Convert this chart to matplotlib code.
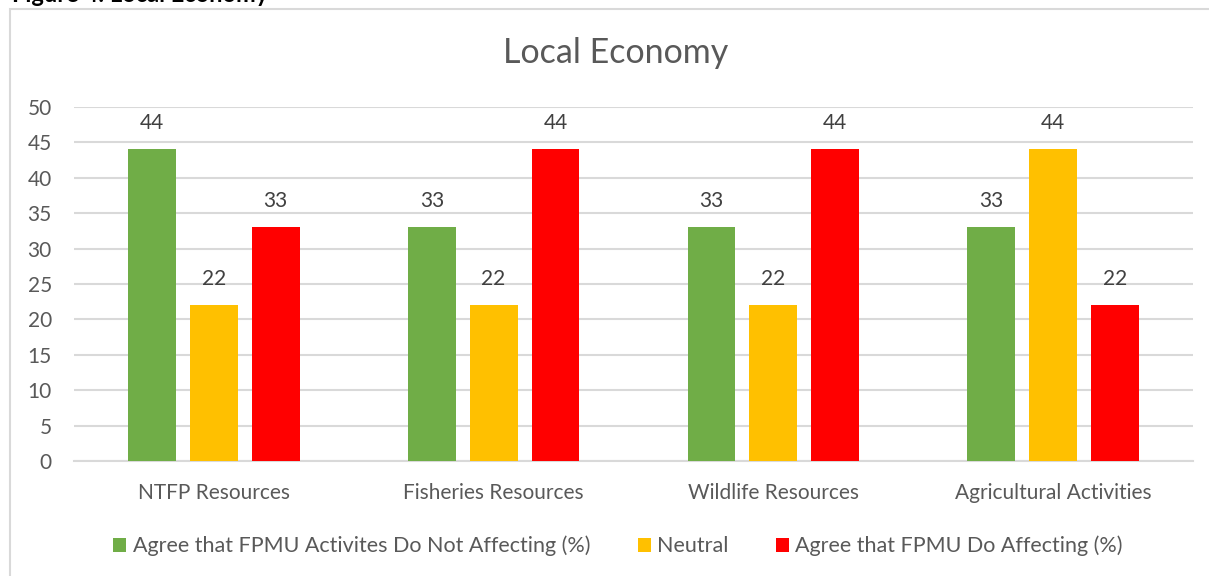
import matplotlib.pyplot as plt
import numpy as np
from matplotlib.patches import Rectangle

plt.rcParams['font.family'] = ['Lato', 'DejaVu Sans']

categories = ["NTFP Resources", "Fisheries Resources", "Wildlife Resources", "Agricultural Activities"]
series_names = ["Agree that FPMU Activites Do Not Affecting (%)", "Neutral",
                "Agree that FPMU Do Affecting (%)"]
agree_not = [44, 33, 33, 33]
neutral = [22, 22, 22, 44]
agree_do = [33, 44, 44, 22]
colors = ["#70ad47", "#ffc000", "#ff0000"]

text_color = "#595959"
grid_color = "#d9d9d9"

fig = plt.figure(figsize=(12.09, 5.76), dpi=100)
W, H = 1209, 576

# chart frame
fig.patches.append(Rectangle((10 / W, -0.1), 1.2, 1.1 - 9 / H, transform=fig.transFigure,
                             fill=False, edgecolor=grid_color, linewidth=1.5))
# caption above the chart, cut off by the page edge as in the source
fig.text(12 / W, 1 - 2 / H, "Figure 4: Local Economy", fontsize=17, fontweight="bold",
         ha="left", va="baseline", color="black")

ax = fig.add_axes([74 / W, 1 - 461 / H, (1193 - 74) / W, (461 - 107) / H])

x = np.arange(len(categories))
pitch = 0.221
width = 0.171
for i, (vals, name) in enumerate(zip([agree_not, neutral, agree_do], series_names)):
    bars = ax.bar(x + (i - 1) * pitch, vals, width, color=colors[i], label=name, zorder=3)
    for b, v in zip(bars, vals):
        ax.annotate(str(v), (b.get_x() + b.get_width() / 2, v), xytext=(0, 12),
                    textcoords="offset points", ha="center", va="bottom",
                    fontsize=15, color="#404040")

ax.set_xlim(-0.5, len(categories) - 0.5)
ax.set_ylim(0, 50)
ax.set_yticks(range(0, 51, 5))
ax.set_xticks(x)
ax.set_xticklabels(categories)
ax.tick_params(axis="both", length=0, labelsize=15, colors=text_color)
ax.tick_params(axis="y", pad=16)
ax.tick_params(axis="x", pad=16)
ax.grid(axis="y", color=grid_color, linewidth=1.5, zorder=0)
for s in ["top", "right", "left"]:
    ax.spines[s].set_visible(False)
ax.spines["bottom"].set_color(grid_color)
ax.spines["bottom"].set_linewidth(1.5)

fig.text((74 + 1193) / 2 / W - 0.015, 1 - 53 / H, "Local Economy", ha="center", va="center",
         fontsize=24.5, color=text_color)

fig.legend(loc="center", bbox_to_anchor=(618 / W, 1 - 546 / H), ncol=3, frameon=False,
           fontsize=15.5, labelcolor=text_color, handlelength=0.6, handleheight=0.6,
           handletextpad=0.3, columnspacing=2.2)

fig.savefig("out.png", dpi=100)
